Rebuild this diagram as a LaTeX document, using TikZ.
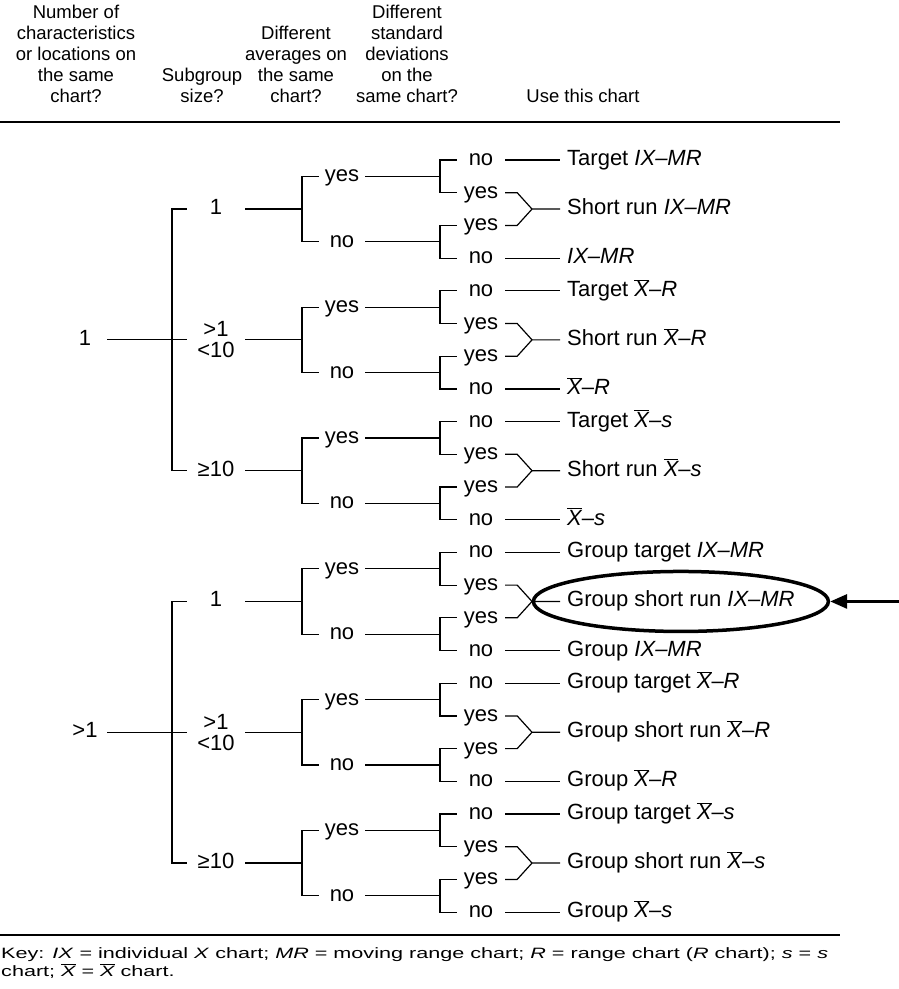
\documentclass[tikz,border=0pt]{standalone}
\usepackage{fontspec}
\setmainfont{Liberation Sans}
\usepackage{graphicx}
\usetikzlibrary{arrows.meta,shapes.geometric}
\newcommand{\xb}{\ensuremath{\overline{\mbox{\itshape X}}}}
\newcommand{\mainsz}{\fontsize{22}{21}\selectfont}
\newcommand{\mkgroup}[6]{%
 \pgfmathsetmacro\yA{160+(4*#1)*32.7}%
 \pgfmathsetmacro\yB{\yA+32.7}%
 \pgfmathsetmacro\yC{\yA+2*32.7}%
 \pgfmathsetmacro\yD{\yA+3*32.7}%
 \pgfmathsetmacro\yM{\yA+1.5*32.7}%
 \pgfmathsetmacro\yY{\yA+0.5*32.7}%
 \pgfmathsetmacro\yN{\yA+2.5*32.7}%
 \node[lab4] (sA#1) at (481,\yA) {no};
 \node[lab4] (sB#1) at (481,\yB) {yes};
 \node[lab4] (sC#1) at (481,\yC) {yes};
 \node[lab4] (sD#1) at (481,\yD) {no};
 \node[chart] (cA#1) at (560,\yA) {#2};
 \node[chart] (cM#1) at (560,\yM) {#3};
 \node[chart] (cD#1) at (560,\yD) {#4};
 \coordinate (j#1) at (532,\yM);
 \node[lab3] (aY#1) at (342,\yY) {yes};
 \node[lab3] (aN#1) at (342,\yN) {no};
 \coordinate (bY#1) at (440,\yY);
 \coordinate (bN#1) at (440,\yN);
 \node[#6] (g#1) at (216,\yM) {#5};
 \coordinate (bG#1) at (302,\yM);
 \draw[conn] (sA#1.east) -- (cA#1.west);
 \draw[conn] (sD#1.east) -- (cD#1.west);
 \draw[conn] (sB#1.east) -- ++(12,0) -- (j#1) -- (cM#1.west);
 \draw[conn] (sC#1.east) -- ++(12,0) -- (j#1);
 \draw[conn] (sA#1.west) -| (bY#1) |- (sB#1.west);
 \draw[conn] (sC#1.west) -| (bN#1) |- (sD#1.west);
 \draw[conn] (aY#1.east) -- (bY#1);
 \draw[conn] (aN#1.east) -- (bN#1);
 \draw[conn] (aY#1.west) -| (bG#1) |- (aN#1.west);
 \draw[conn] (g#1.east) -- (bG#1);
}
\begin{document}
\begin{tikzpicture}[x=1pt,y=-1pt,
  conn/.style={line width=1.2pt},
  rule/.style={line width=2pt},
  labf/.style={font=\mainsz, inner sep=0pt},
  lab/.style={labf, text height=15.5pt, text depth=4.5pt, align=center},
  lab4/.style={lab, minimum width=48pt},
  lab3/.style={lab, minimum width=46pt},
  lab2/.style={lab, minimum width=58pt},
  lab2m/.style={labf, minimum width=58pt, align=center},
  lab1/.style={lab, minimum width=44pt},
  chart/.style={font=\mainsz, anchor=west, inner xsep=7pt, inner ysep=0pt, text height=15.5pt, text depth=4.5pt},
  hdr/.style={font=\fontsize{18.5}{21}\selectfont, anchor=base, inner sep=0pt},
  keyt/.style={font=\fontsize{15}{17}\selectfont, anchor=base west, inner sep=0pt},
  hl/.style={draw, ellipse, line width=3.5pt, minimum width=295pt, minimum height=60pt, inner sep=0pt},
  pointer/.style={line width=3pt, -{Triangle[length=17pt,width=14pt]}}
]
\useasboundingbox (0,0) rectangle (898,989);
% header
\node[hdr] (h11) at (76,18) {Number of};
\node[hdr] (h12) at (76,39) {characteristics};
\node[hdr] (h13) at (76,60) {or locations on};
\node[hdr] (h14) at (76,81) {the same};
\node[hdr] (h15) at (76,102) {chart?};
\node[hdr] (h24) at (202,81) {Subgroup};
\node[hdr] (h25) at (202,102) {size?};
\node[hdr] (h32) at (296,39) {Different};
\node[hdr] (h33) at (296,60) {averages on};
\node[hdr] (h34) at (296,81) {the same};
\node[hdr] (h35) at (296,102) {chart?};
\node[hdr] (h41) at (407,18) {Different};
\node[hdr] (h42) at (407,39) {standard};
\node[hdr] (h43) at (407,60) {deviations};
\node[hdr] (h44) at (407,81) {on the};
\node[hdr] (h45) at (407,102) {same chart?};
\node[hdr] (h55) at (583,102) {Use this chart};
\coordinate (r1a) at (0,122);
\coordinate (r1b) at (840,122);
\draw[rule] (r1a) -- (r1b);
% groups
\mkgroup{0}{Target \textit{IX--MR}}{Short run \textit{IX--MR}}{\textit{IX--MR}}{1}{lab2}
\mkgroup{1}{Target \xb--\textit{R}}{Short run \xb--\textit{R}}{\xb--\textit{R}}{>1\\<10}{lab2m}
\mkgroup{2}{Target \xb--\textit{s}}{Short run \xb--\textit{s}}{\xb--\textit{s}}{≥10}{lab2}
\mkgroup{3}{Group target \textit{IX--MR}}{Group short run \textit{IX--MR}}{Group \textit{IX--MR}}{1}{lab2}
\mkgroup{4}{Group target \xb--\textit{R}}{Group short run \xb--\textit{R}}{Group \xb--\textit{R}}{>1\\<10}{lab2m}
\mkgroup{5}{Group target \xb--\textit{s}}{Group short run \xb--\textit{s}}{Group \xb--\textit{s}}{≥10}{lab2}
% level 1
\node[lab1] (t0) at (85,{160+5.5*32.7}) {1};
\coordinate (bT0) at (172,{160+5.5*32.7});
\draw[conn] (t0.east) -- (g1.west);
\draw[conn] (g0.west) -| (bT0) |- (g2.west);
\node[lab1] (t1) at (85,{160+17.5*32.7}) {>1};
\coordinate (bT1) at (172,{160+17.5*32.7});
\draw[conn] (t1.east) -- (g4.west);
\draw[conn] (g3.west) -| (bT1) |- (g5.west);
% highlight
\node[hl] (hl) at (cM3.center) {};
\path (hl.east) ++(72,0) coordinate (arrS);
\draw[pointer] (arrS) -- (hl.east);
% bottom rule and key
\coordinate (r2a) at (0,935);
\coordinate (r2b) at (840,935);
\draw[rule] (r2a) -- (r2b);
\node[keyt] (k1) at (1,958) {\scalebox{1.44}[1]{Key: \textit{IX} = individual \textit{X} chart; \textit{MR} = moving range chart; \textit{R} = range chart (\textit{R} chart); \textit{s} = \textit{s}}};
\node[keyt] (k2) at (1,976) {\scalebox{1.44}[1]{chart; \xb{} = \xb{} chart.}};
\end{tikzpicture}
\end{document}
